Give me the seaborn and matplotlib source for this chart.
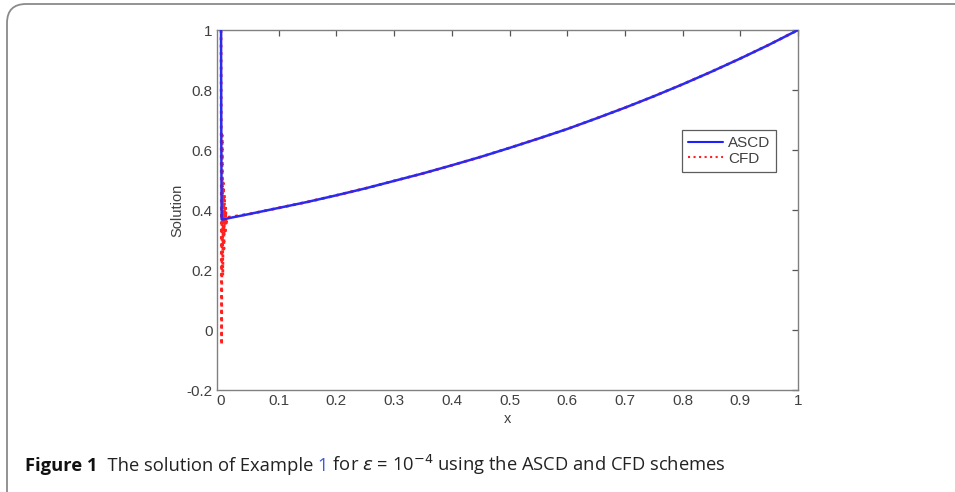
import matplotlib
matplotlib.use("Agg")
import matplotlib.pyplot as plt
from matplotlib import font_manager
from matplotlib.patches import FancyBboxPatch
from matplotlib.lines import Line2D
import pandas as pd
import seaborn as sns

# ASCD solution: sharp boundary layer at x=0, then smooth growth to 1
ascd_x = [0.0, 0.0005, 0.001, 0.05, 0.1, 0.15, 0.2, 0.25, 0.3, 0.35, 0.4, 0.45, 0.5,
          0.55, 0.6, 0.65, 0.7, 0.75, 0.8, 0.85, 0.9, 0.95, 1.0]
ascd_y = [1.0, 0.62, 0.368, 0.387, 0.407, 0.427, 0.449, 0.472, 0.497, 0.522, 0.549,
          0.577, 0.607, 0.638, 0.670, 0.705, 0.741, 0.779, 0.819, 0.861, 0.905,
          0.951, 1.0]

# CFD solution: oscillates inside the boundary layer, then follows the same curve
cfd_x = [0.0, 0.001, 0.002, 0.003, 0.004, 0.005, 0.006, 0.007, 0.008, 0.009, 0.010,
         0.05, 0.1, 0.15, 0.2, 0.25, 0.3, 0.35, 0.4, 0.45, 0.5,
         0.55, 0.6, 0.65, 0.7, 0.75, 0.8, 0.85, 0.9, 0.95, 1.0]
cfd_y = [1.0, -0.05, 0.65, 0.18, 0.49, 0.27, 0.45, 0.32, 0.41, 0.35, 0.375,
         0.387, 0.407, 0.427, 0.449, 0.472, 0.497, 0.522, 0.549, 0.577, 0.607,
         0.638, 0.670, 0.705, 0.741, 0.779, 0.819, 0.861, 0.905, 0.951, 1.0]

x_ticks = [0, 0.1, 0.2, 0.3, 0.4, 0.5, 0.6, 0.7, 0.8, 0.9, 1]
x_tick_labels = ["0", "0.1", "0.2", "0.3", "0.4", "0.5", "0.6", "0.7", "0.8", "0.9", "1"]
y_ticks = [-0.2, 0, 0.2, 0.4, 0.6, 0.8, 1]
y_tick_labels = ["-0.2", "0", "0.2", "0.4", "0.6", "0.8", "1"]

sns.set_style("white")
available = {f.name for f in font_manager.fontManager.ttflist}
plt.rcParams["font.family"] = ["Liberation Sans", "DejaVu Sans"]

W, H = 955, 492
fig = plt.figure(figsize=(W / 100, H / 100), dpi=100)

# rounded frame around the figure and caption
frame = FancyBboxPatch((7 / W, -20 / H), 1.2, (H - 4 + 20) / H,
                       boxstyle="round,pad=0,rounding_size=0.02",
                       transform=fig.transFigure, fill=False,
                       edgecolor="#8a8a8a", linewidth=1.3, mutation_aspect=W / H)
fig.patches.append(frame)

ax = fig.add_axes([217 / W, 1 - 390 / H, (798 - 217) / W, 360 / H])

df_cfd = pd.DataFrame({"x": cfd_x, "y": cfd_y})
df_ascd = pd.DataFrame({"x": ascd_x, "y": ascd_y})

sns.lineplot(data=df_cfd, x="x", y="y", ax=ax, color="#ff2020", linestyle=":",
             linewidth=2.0, sort=False, estimator=None, zorder=2)
sns.lineplot(data=df_ascd, x="x", y="y", ax=ax, color="#2a2af0",
             linewidth=1.8, sort=False, estimator=None, zorder=3)

ax.set_xlim(-0.007, 1.0)
ax.set_ylim(-0.2, 1.0)
ax.set_xticks(x_ticks)
ax.set_xticklabels(x_tick_labels)
ax.set_yticks(y_ticks)
ax.set_yticklabels(y_tick_labels)
ax.tick_params(direction="in", length=4, width=0.9, top=True, right=True,
               color="#555555", labelcolor="#404040", labelsize=11, pad=3)
for s in ax.spines.values():
    s.set_color("#808080")
    s.set_linewidth(1.0)
ax.set_xlabel("x", fontsize=10.5, color="#404040", labelpad=3)
ax.set_ylabel("Solution", fontsize=10.5, color="#404040", labelpad=2)

handles = [Line2D([], [], color="#2020ff", linewidth=1.5),
           Line2D([], [], color="#ff2020", linestyle=":", linewidth=1.5)]
leg = ax.legend(handles, ["ASCD", "CFD"], loc="upper left",
                bbox_to_anchor=((682 - 217) / 581, (390 - 130) / 360),
                frameon=True, fancybox=False, fontsize=11, handlelength=2.3,
                handletextpad=0.3, borderpad=0.4, labelspacing=0.1,
                borderaxespad=0)
leg.get_frame().set_edgecolor("#333333")
leg.get_frame().set_linewidth(0.9)
for t in leg.get_texts():
    t.set_color("#404040")

# caption assembled from pieces so "1" can be coloured
if "Liberation Sans Narrow" in available:
    cap_family, cap_size = ["Liberation Sans Narrow", "DejaVu Sans"], 15
else:
    cap_family, cap_size = ["Open Sans", "DejaVu Sans"], 13.2

pieces = [
    ("Figure 1", "bold", "#111111"),
    ("  The solution of Example ", "normal", "#222222"),
    ("1", "normal", "#3b5bdb"),
    (r" for $\varepsilon$ = 10$^{-4}$ using the ASCD and CFD schemes", "normal", "#222222"),
]
fig.canvas.draw()
renderer = fig.canvas.get_renderer()
x_px = 25
y_fig = 1 - 471 / H
for txt, weight, col in pieces:
    t = fig.text(x_px / W, y_fig, txt, fontsize=cap_size, fontweight=weight,
                 color=col, family=cap_family, ha="left", va="baseline")
    bb = t.get_window_extent(renderer=renderer)
    x_px += bb.width

fig.savefig("out.png", dpi=100)
